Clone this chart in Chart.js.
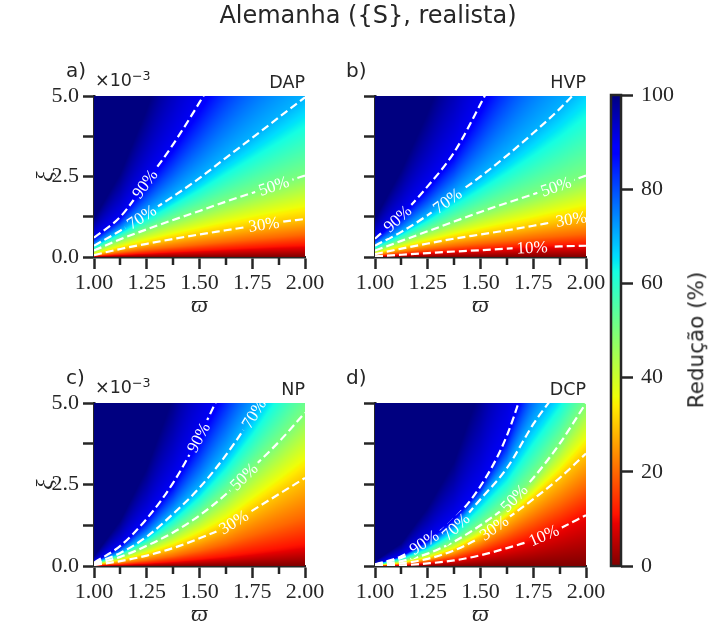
<!DOCTYPE html>
<html>
<head>
<meta charset="utf-8">
<script src="https://cdn.jsdelivr.net/npm/chart.js@4.4.1/dist/chart.umd.min.js"></script>
<style>
html, body { margin: 0; padding: 0; background: #fff; }
#wrap { position: relative; width: 708px; height: 639px; overflow: hidden; }
#wrap canvas { position: absolute; left: 0; top: 0; }
.t { position: absolute; font-family: 'DejaVu Sans', sans-serif; color: #262626; line-height: 1; white-space: nowrap; }
.t sup { font-size: 0.72em; vertical-align: 0.45em; line-height: 0; }
</style>
</head>
<body>
<div id="wrap">
	<canvas id="panelA" width="708" height="639"></canvas>
	<canvas id="panelB" width="708" height="639"></canvas>
	<canvas id="panelC" width="708" height="639"></canvas>
	<canvas id="panelD" width="708" height="639"></canvas>
	<canvas id="cbar" width="708" height="639"></canvas>

	<div class="t" style="left:0; width:736px; text-align:center; top:3px; font-size:24px;">Alemanha ({S}, realista)</div>

	<div class="t" style="left:66px; top:60px; font-size:20px;">a)</div>
	<div class="t" style="left:95px; top:72px; font-size:17.5px;">×10<sup>−3</sup></div>
	<div class="t" style="right:403px; top:74px; font-size:17.5px;">DAP</div>

	<div class="t" style="left:346px; top:60px; font-size:20px;">b)</div>
	<div class="t" style="right:122px; top:74px; font-size:17.5px;">HVP</div>

	<div class="t" style="left:66px; top:367px; font-size:20px;">c)</div>
	<div class="t" style="left:95px; top:379px; font-size:17.5px;">×10<sup>−3</sup></div>
	<div class="t" style="right:403px; top:381px; font-size:17.5px;">NP</div>

	<div class="t" style="left:346px; top:367px; font-size:20px;">d)</div>
	<div class="t" style="right:122px; top:381px; font-size:17.5px;">DCP</div>

	<div class="t" style="left:696px; top:340px; font-size:21.5px; transform:translate(-50%,-50%) rotate(-90deg);">Redução (%)</div>
</div>

<script>
// grid of omega where the iso-reduction curves were read (xi in units of 1e-3)
const OMEGA  = [1.0, 1.125, 1.25, 1.375, 1.5, 1.625, 1.75, 1.875, 2.0];
const LEVELS = [0, 10, 20, 30, 50, 70, 90, 100];

// xi of each level along OMEGA, one row per LEVELS entry
const DAP_LINES = [
	[0, 0, 0, 0, 0, 0, 0, 0, 0],
	[0.02, 0.06, 0.10, 0.14, 0.18, 0.22, 0.26, 0.30, 0.33],
	[0.04, 0.14, 0.23, 0.31, 0.39, 0.47, 0.55, 0.62, 0.70],
	[0.06, 0.25, 0.41, 0.56, 0.70, 0.83, 0.96, 1.08, 1.18],
	[0.20, 0.55, 0.86, 1.15, 1.43, 1.72, 1.99, 2.26, 2.53],
	[0.35, 0.82, 1.35, 1.88, 2.45, 3.08, 3.70, 4.33, 4.96],
	[0.60, 1.25, 2.35, 3.50, 4.80, 6.20, 7.60, 9.00, 10.5],
	[1.2, 2.6, 4.6, 6.9, 9.5, 12.4, 15.2, 18.0, 21.0]
];
const HVP_LINES = [
	[0, 0, 0, 0, 0, 0, 0, 0, 0],
	[0.02, 0.07, 0.12, 0.17, 0.21, 0.26, 0.30, 0.33, 0.35],
	[0.05, 0.15, 0.25, 0.34, 0.42, 0.50, 0.58, 0.65, 0.72],
	[0.09, 0.26, 0.42, 0.57, 0.70, 0.83, 0.97, 1.12, 1.25],
	[0.20, 0.50, 0.80, 1.10, 1.40, 1.68, 1.95, 2.23, 2.53],
	[0.35, 0.78, 1.30, 1.90, 2.50, 3.15, 3.85, 4.60, 5.45],
	[0.57, 1.30, 2.20, 3.25, 4.75, 6.40, 8.20, 10.0, 12.0],
	[1.2, 2.7, 4.5, 6.6, 9.5, 12.8, 16.4, 20.0, 24.0]
];
const NP_LINES = [
	[0, 0, 0, 0, 0, 0, 0, 0, 0],
	[0.01, 0.03, 0.07, 0.12, 0.19, 0.27, 0.37, 0.48, 0.60],
	[0.02, 0.08, 0.17, 0.30, 0.47, 0.68, 0.95, 1.22, 1.50],
	[0.03, 0.15, 0.32, 0.55, 0.85, 1.20, 1.70, 2.20, 2.70],
	[0.05, 0.28, 0.62, 1.03, 1.55, 2.20, 3.00, 3.80, 4.70],
	[0.08, 0.40, 0.90, 1.60, 2.40, 3.40, 4.60, 6.00, 7.50],
	[0.10, 0.62, 1.45, 2.55, 4.00, 5.70, 7.50, 9.50, 11.5],
	[0.30, 1.40, 3.00, 5.20, 8.20, 11.5, 15.0, 19.0, 23.0]
];
const DCP_LINES = [
	[0, 0, 0, 0, 0, 0, 0, 0, 0],
	[0.00, 0.02, 0.08, 0.17, 0.33, 0.55, 0.80, 1.15, 1.56],
	[0.005, 0.05, 0.15, 0.32, 0.60, 0.98, 1.42, 1.90, 2.45],
	[0.01, 0.08, 0.22, 0.48, 0.88, 1.45, 2.05, 2.70, 3.45],
	[0.02, 0.15, 0.38, 0.75, 1.25, 1.85, 2.70, 3.75, 5.00],
	[0.04, 0.25, 0.60, 1.15, 2.05, 3.00, 4.35, 5.50, 7.00],
	[0.05, 0.30, 0.80, 1.45, 2.45, 4.00, 6.50, 9.50, 13.0],
	[0.15, 0.7, 1.8, 3.2, 5.5, 8.8, 14.0, 21.0, 28.0]
];

// drawn (dashed) levels and where their inline labels sit: [level, omega]
const DAP_LABELS = [[30, 1.805], [50, 1.852], [70, 1.225], [90, 1.241]];
const HVP_LABELS = [[10, 1.745], [30, 1.93], [50, 1.857], [70, 1.343], [90, 1.106]];
const NP_LABELS  = [[30, 1.662], [50, 1.71], [70, 1.757], [90, 1.495]];
const DCP_LABELS = [[10, 1.80], [30, 1.564], [50, 1.659], [70, 1.382], [90, 1.232]];

const X_TICKS = [1.0, 1.25, 1.5, 1.75, 2.0];
const Y_TICKS = [0, 2.5, 5.0];
const CBAR_TICKS = [0, 20, 40, 60, 80, 100];

const INK = '#262626';
const SERIF = '"Liberation Serif", "DejaVu Serif", serif';

// matplotlib jet, used reversed (100 -> dark blue)
const JET_R = [[0, 0], [0.35, 0], [0.66, 1], [0.89, 1], [1, 0.5]];
const JET_G = [[0, 0], [0.125, 0], [0.375, 1], [0.64, 1], [0.91, 0], [1, 0]];
const JET_B = [[0, 0.5], [0.11, 1], [0.34, 1], [0.65, 0], [1, 0]];

function seg (t, pts) {
	for (let i = 1; i < pts.length; i++) {
		if (t <= pts[i][0]) {
			const [x0, y0] = pts[i - 1], [x1, y1] = pts[i];
			return y0 + (t - x0) / (x1 - x0) * (y1 - y0);
		}
	}
	return pts[pts.length - 1][1];
}

function jetReversed (r) {
	const t = 1 - Math.min(100, Math.max(0, r)) / 100;
	return [seg(t, JET_R) * 255, seg(t, JET_G) * 255, seg(t, JET_B) * 255];
}

function interp (xs, ys, x) {
	if (x <= xs[0]) return ys[0];
	for (let i = 1; i < xs.length; i++) {
		if (x <= xs[i]) {
			const f = (x - xs[i - 1]) / (xs[i] - xs[i - 1]);
			return ys[i - 1] + f * (ys[i] - ys[i - 1]);
		}
	}
	return ys[ys.length - 1];
}

function reduction (xis, xi) {
	if (xi <= xis[0]) return LEVELS[0];
	for (let k = 1; k < xis.length; k++) {
		if (xi <= xis[k]) {
			const d = xis[k] - xis[k - 1];
			if (d <= 0) return LEVELS[k];
			return LEVELS[k - 1] + (xi - xis[k - 1]) / d * (LEVELS[k] - LEVELS[k - 1]);
		}
	}
	return 100;
}

function heatmapPlugin (lines) {
	return {
		id: 'heatmap',
		beforeDatasetsDraw (chart) {
			const {left, top, width, height} = chart.chartArea;
			const w = Math.ceil(width), h = Math.ceil(height);
			const off = document.createElement('canvas');
			off.width = w;
			off.height = h;
			const octx = off.getContext('2d');
			const img = octx.createImageData(w, h);

			for (let i = 0; i < w; i++) {
				const om = chart.scales.x.getValueForPixel(left + i + 0.5);
				const xis = lines.map(row => interp(OMEGA, row, om));
				for (let j = 0; j < h; j++) {
					const xi = chart.scales.y.getValueForPixel(top + j + 0.5);
					const c = jetReversed(reduction(xis, xi));
					const p = (j * w + i) * 4;
					img.data[p] = c[0];
					img.data[p + 1] = c[1];
					img.data[p + 2] = c[2];
					img.data[p + 3] = 255;
				}
			}
			octx.putImageData(img, 0, 0);
			chart.$heat = off;
			chart.ctx.drawImage(off, left, top);
		}
	};
}

function contourLabelPlugin (lines, labels) {
	return {
		id: 'contourLabels',
		afterDatasetsDraw (chart) {
			const ctx = chart.ctx;
			const area = chart.chartArea;
			const sx = chart.scales.x, sy = chart.scales.y;
			const font = `17px ${SERIF}`;

			labels.forEach(([level, om]) => {
				const row = lines[LEVELS.indexOf(level)];
				const px = sx.getPixelForValue(om);
				const py = sy.getPixelForValue(interp(OMEGA, row, om));
				const ax = sx.getPixelForValue(om - 0.03), ay = sy.getPixelForValue(interp(OMEGA, row, om - 0.03));
				const bx = sx.getPixelForValue(om + 0.03), by = sy.getPixelForValue(interp(OMEGA, row, om + 0.03));
				const angle = Math.atan2(by - ay, bx - ax);
				const text = `${level}%`;
				ctx.font = font;
				const tw = ctx.measureText(text).width + 8;

				// put the colour field back under the label, like an inline clabel
				ctx.save();
				ctx.beginPath();
				ctx.rect(area.left, area.top, area.right - area.left, area.bottom - area.top);
				ctx.clip();
				ctx.translate(px, py);
				ctx.rotate(angle);
				ctx.beginPath();
				ctx.rect(-tw / 2, -8, tw, 16);
				ctx.clip();
				ctx.rotate(-angle);
				ctx.translate(-px, -py);
				ctx.drawImage(chart.$heat, area.left, area.top);
				ctx.restore();

				ctx.save();
				ctx.beginPath();
				ctx.rect(area.left, area.top, area.right - area.left, area.bottom - area.top);
				ctx.clip();
				ctx.translate(px, py);
				ctx.rotate(angle);
				ctx.font = font;
				ctx.fillStyle = '#ffffff';
				ctx.textAlign = 'center';
				ctx.textBaseline = 'middle';
				ctx.fillText(text, 0, 1);
				ctx.restore();
			});
		}
	};
}

const minorTicksPlugin = {
	id: 'minorTicks',
	afterDraw (chart) {
		const ctx = chart.ctx;
		const bottom = chart.chartArea.bottom;
		ctx.save();
		ctx.strokeStyle = INK;
		ctx.lineWidth = 2.5;
		[1.125, 1.375, 1.625, 1.875].forEach(v => {
			const x = Math.round(chart.scales.x.getPixelForValue(v));
			ctx.beginPath();
			ctx.moveTo(x, bottom);
			ctx.lineTo(x, bottom + 8);
			ctx.stroke();
		});
		ctx.restore();
	}
};

function isTick (list, v) {
	return list.some(t => Math.abs(t - v) < 1e-6);
}

function createPanel (id, lines, labels, pad, showY) {
	const datasets = labels.map(([level]) => ({
		data: OMEGA.map((w, i) => ({ x: w, y: lines[LEVELS.indexOf(level)][i] })),
		showLine: true,
		borderColor: '#ffffff',
		borderWidth: 2.2,
		borderDash: [8, 4],
		pointRadius: 0,
		cubicInterpolationMode: 'monotone',
		clip: 0
	}));

	return new Chart(document.getElementById(id), {
		type: 'scatter',
		data: { datasets },
		options: {
			responsive: false,
			animation: false,
			events: [],
			layout: { padding: pad },
			plugins: { legend: { display: false }, tooltip: { enabled: false } },
			scales: {
				x: {
					type: 'linear', min: 1, max: 2, z: 1,
					ticks: {
						stepSize: 0.125, autoSkip: false, maxRotation: 0, padding: 1,
						color: INK, font: { family: SERIF, size: 22 },
						callback: v => isTick(X_TICKS, v) ? v.toFixed(2) : ''
					},
					grid: {
						drawOnChartArea: false, tickLength: 12, tickWidth: 2.5,
						tickColor: ctx => (ctx.tick && isTick(X_TICKS, ctx.tick.value)) ? INK : 'rgba(0,0,0,0)'
					},
					border: { color: INK, width: 2.5 },
					title: {
						display: true, text: 'ϖ', color: INK, padding: 0,
						font: { family: SERIF, size: 24, style: 'italic' }
					},
					afterFit: s => { s.height = 63; }
				},
				y: {
					type: 'linear', min: 0, max: 5, z: 1,
					ticks: {
						stepSize: 1.25, autoSkip: false, padding: 4,
						color: INK, font: { family: SERIF, size: 22 },
						callback: v => (showY && isTick(Y_TICKS, v)) ? v.toFixed(1) : ''
					},
					grid: { drawOnChartArea: false, tickLength: 11, tickWidth: 2.5, tickColor: INK },
					border: { color: INK, width: 2.5 },
					title: {
						display: showY, text: 'ξ', color: INK, padding: 0,
						font: { family: SERIF, size: 24, style: 'italic' }
					},
					afterFit: s => { s.width = 63; }
				}
			}
		},
		plugins: [heatmapPlugin(lines), contourLabelPlugin(lines, labels), minorTicksPlugin]
	});
}

function createColorbar () {
	const gradient = {
		id: 'cbarGradient',
		beforeDatasetsDraw (chart) {
			const ctx = chart.ctx;
			const {left, right, top, bottom} = chart.chartArea;
			for (let y = Math.floor(top); y < bottom; y++) {
				const c = jetReversed(chart.scales.y.getValueForPixel(y + 0.5));
				ctx.fillStyle = `rgb(${c[0]},${c[1]},${c[2]})`;
				ctx.fillRect(left, y, right - left, 1);
			}
		},
		afterDraw (chart) {
			const ctx = chart.ctx;
			const {left, right, top, bottom} = chart.chartArea;
			ctx.save();
			ctx.strokeStyle = INK;
			ctx.lineWidth = 2.5;
			ctx.strokeRect(left, top, right - left, bottom - top);
			ctx.restore();
		}
	};

	return new Chart(document.getElementById('cbar'), {
		type: 'scatter',
		data: { datasets: [] },
		options: {
			responsive: false,
			animation: false,
			events: [],
			layout: { padding: { left: 611, right: 27, top: 95, bottom: 73 } },
			plugins: { legend: { display: false }, tooltip: { enabled: false } },
			scales: {
				x: { display: false, min: 0, max: 1 },
				y: {
					position: 'right', min: 0, max: 100, z: 1,
					afterBuildTicks: s => { s.ticks = CBAR_TICKS.map(v => ({ value: v })); },
					ticks: { padding: 8, color: INK, font: { family: SERIF, size: 22 } },
					grid: { drawOnChartArea: false, tickLength: 12, tickWidth: 2.5, tickColor: INK },
					border: { display: false },
					afterFit: s => { s.width = 60; }
				}
			}
		},
		plugins: [gradient]
	});
}

createPanel('panelA', DAP_LINES, DAP_LABELS, { left: 31, right: 403, top: 96, bottom: 319 }, true);
createPanel('panelB', HVP_LINES, HVP_LABELS, { left: 312, right: 122, top: 96, bottom: 319 }, false);
createPanel('panelC', NP_LINES, NP_LABELS, { left: 31, right: 403, top: 403, bottom: 10 }, true);
createPanel('panelD', DCP_LINES, DCP_LABELS, { left: 312, right: 122, top: 403, bottom: 10 }, false);
createColorbar();
</script>
</body>
</html>
